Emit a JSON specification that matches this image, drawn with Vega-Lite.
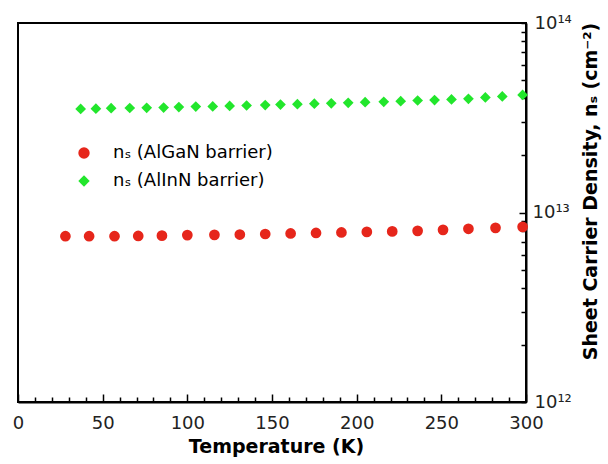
{
  "$schema": "https://vega.github.io/schema/vega-lite/v6.json",
  "autosize": {"type": "none"},
  "padding": {"left": 18, "top": 23, "right": 82, "bottom": 62},
  "width": 508,
  "height": 379,
  "background": "white",
  "config": {
    "view": {"stroke": "black", "strokeWidth": 2},
    "font": "DejaVu Sans"
  },
  "data": {
    "values": [
      {"T": 28, "ns": 7.5e12, "series": "nₛ (AlGaN barrier)"},
      {"T": 42, "ns": 7.5e12, "series": "nₛ (AlGaN barrier)"},
      {"T": 57, "ns": 7.5e12, "series": "nₛ (AlGaN barrier)"},
      {"T": 71, "ns": 7.52e12, "series": "nₛ (AlGaN barrier)"},
      {"T": 85, "ns": 7.55e12, "series": "nₛ (AlGaN barrier)"},
      {"T": 100, "ns": 7.6e12, "series": "nₛ (AlGaN barrier)"},
      {"T": 116, "ns": 7.62e12, "series": "nₛ (AlGaN barrier)"},
      {"T": 131, "ns": 7.65e12, "series": "nₛ (AlGaN barrier)"},
      {"T": 146, "ns": 7.7e12, "series": "nₛ (AlGaN barrier)"},
      {"T": 161, "ns": 7.75e12, "series": "nₛ (AlGaN barrier)"},
      {"T": 176, "ns": 7.8e12, "series": "nₛ (AlGaN barrier)"},
      {"T": 191, "ns": 7.85e12, "series": "nₛ (AlGaN barrier)"},
      {"T": 206, "ns": 7.9e12, "series": "nₛ (AlGaN barrier)"},
      {"T": 221, "ns": 7.95e12, "series": "nₛ (AlGaN barrier)"},
      {"T": 236, "ns": 8.0e12, "series": "nₛ (AlGaN barrier)"},
      {"T": 251, "ns": 8.1e12, "series": "nₛ (AlGaN barrier)"},
      {"T": 266, "ns": 8.2e12, "series": "nₛ (AlGaN barrier)"},
      {"T": 282, "ns": 8.3e12, "series": "nₛ (AlGaN barrier)"},
      {"T": 298, "ns": 8.4e12, "series": "nₛ (AlGaN barrier)"},
      {"T": 37, "ns": 3.52e13, "series": "nₛ (AlInN barrier)"},
      {"T": 46, "ns": 3.53e13, "series": "nₛ (AlInN barrier)"},
      {"T": 55, "ns": 3.55e13, "series": "nₛ (AlInN barrier)"},
      {"T": 66, "ns": 3.56e13, "series": "nₛ (AlInN barrier)"},
      {"T": 76, "ns": 3.57e13, "series": "nₛ (AlInN barrier)"},
      {"T": 86, "ns": 3.58e13, "series": "nₛ (AlInN barrier)"},
      {"T": 95, "ns": 3.6e13, "series": "nₛ (AlInN barrier)"},
      {"T": 105, "ns": 3.62e13, "series": "nₛ (AlInN barrier)"},
      {"T": 115, "ns": 3.63e13, "series": "nₛ (AlInN barrier)"},
      {"T": 125, "ns": 3.65e13, "series": "nₛ (AlInN barrier)"},
      {"T": 135, "ns": 3.67e13, "series": "nₛ (AlInN barrier)"},
      {"T": 146, "ns": 3.69e13, "series": "nₛ (AlInN barrier)"},
      {"T": 155, "ns": 3.71e13, "series": "nₛ (AlInN barrier)"},
      {"T": 165, "ns": 3.73e13, "series": "nₛ (AlInN barrier)"},
      {"T": 175, "ns": 3.75e13, "series": "nₛ (AlInN barrier)"},
      {"T": 185, "ns": 3.77e13, "series": "nₛ (AlInN barrier)"},
      {"T": 195, "ns": 3.79e13, "series": "nₛ (AlInN barrier)"},
      {"T": 205, "ns": 3.82e13, "series": "nₛ (AlInN barrier)"},
      {"T": 216, "ns": 3.84e13, "series": "nₛ (AlInN barrier)"},
      {"T": 226, "ns": 3.87e13, "series": "nₛ (AlInN barrier)"},
      {"T": 236, "ns": 3.9e13, "series": "nₛ (AlInN barrier)"},
      {"T": 246, "ns": 3.92e13, "series": "nₛ (AlInN barrier)"},
      {"T": 256, "ns": 3.95e13, "series": "nₛ (AlInN barrier)"},
      {"T": 266, "ns": 3.98e13, "series": "nₛ (AlInN barrier)"},
      {"T": 276, "ns": 4.05e13, "series": "nₛ (AlInN barrier)"},
      {"T": 286, "ns": 4.1e13, "series": "nₛ (AlInN barrier)"},
      {"T": 298, "ns": 4.17e13, "series": "nₛ (AlInN barrier)"}
    ]
  },
  "mark": {"type": "point", "filled": true, "opacity": 1, "size": 115, "strokeWidth": 0},
  "encoding": {
    "x": {
      "field": "T",
      "type": "quantitative",
      "scale": {"domain": [0, 300], "nice": false, "zero": false},
      "axis": {
        "title": "Temperature (K)",
        "orient": "bottom",
        "values": [0,10,20,30,40,50,60,70,80,90,100,110,120,130,140,150,160,170,180,190,200,210,220,230,240,250,260,270,280,290,300],
        "labelExpr": "datum.value % 50 === 0 ? datum.label : ''",
        "labelOverlap": false,
        "labelFlush": false,
        "labelFont": "DejaVu Sans",
        "labelFontSize": 18,
        "labelColor": "#222",
        "labelPadding": 20,
        "tickSize": {"condition": {"test": "datum.value % 50 === 0", "value": -8}, "value": -5},
        "tickColor": "black",
        "tickWidth": 1.5,
        "domainColor": "black",
        "domainWidth": 2,
        "grid": false,
        "titleFont": "DejaVu Sans",
        "titleFontSize": 19,
        "titleFontWeight": "bold",
        "titleColor": "black",
        "titleX": 258,
        "titleY": 44,
        "titleBaseline": "middle",
        "titleAlign": "center"
      }
    },
    "y": {
      "field": "ns",
      "type": "quantitative",
      "scale": {"type": "log", "domain": [1e12, 1e14], "nice": false},
      "axis": {
        "title": "Sheet Carrier Density, nₛ (cm⁻²)",
        "orient": "right",
        "values": [1e12,2e12,3e12,4e12,5e12,6e12,7e12,8e12,9e12,1e13,2e13,3e13,4e13,5e13,6e13,7e13,8e13,9e13,1e14],
        "labelExpr": "datum.value === 1e12 ? '10¹²' : datum.value === 1e13 ? '10¹³' : datum.value === 1e14 ? '10¹⁴' : ''",
        "labelOverlap": false,
        "labelFlush": false,
        "labelFont": "DejaVu Sans",
        "labelFontSize": 18,
        "labelColor": "#222",
        "labelPadding": 13,
        "labelAlign": "left",
        "labelBaseline": "middle",
        "tickSize": {"condition": {"test": "datum.value === 1e13", "value": -7}, "value": -5},
        "tickColor": "black",
        "tickWidth": 1.5,
        "domainColor": "black",
        "domainWidth": 2,
        "grid": false,
        "titleFont": "DejaVu Sans",
        "titleFontSize": 19,
        "titleFontWeight": "bold",
        "titleColor": "black",
        "titleAngle": 270,
        "titleX": 64,
        "titleY": 168,
        "titleAlign": "center",
        "titleBaseline": "middle"
      }
    },
    "color": {
      "field": "series",
      "type": "nominal",
      "scale": {"domain": ["nₛ (AlGaN barrier)", "nₛ (AlInN barrier)"], "range": ["#e6261b", "#22e62c"]},
      "legend": {
        "title": null,
        "orient": "none",
        "legendX": 57,
        "legendY": 121,
        "padding": 0,
        "labelFont": "DejaVu Sans",
        "labelFontSize": 18,
        "labelOffset": 20,
        "rowPadding": 10,
        "symbolSize": 130,
        "symbolStrokeWidth": 0,
        "encode": {
          "labels": {
            "update": {
              "fill": {"signal": "datum.value === 'nₛ (AlGaN barrier)' ? '#b83a34' : '#44c464'"}
            }
          }
        }
      }
    },
    "shape": {
      "field": "series",
      "type": "nominal",
      "scale": {"domain": ["nₛ (AlGaN barrier)", "nₛ (AlInN barrier)"], "range": ["circle", "diamond"]},
      "legend": null
    }
  }
}
